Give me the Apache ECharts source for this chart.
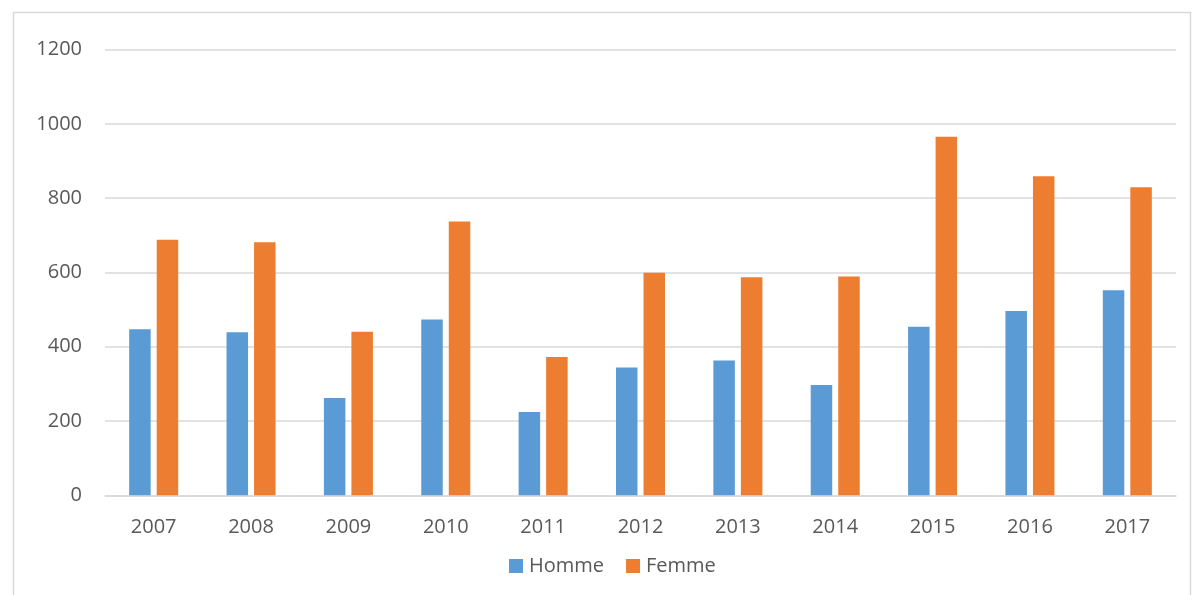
<!DOCTYPE html>
<html>
<head>
<meta charset="utf-8">
<script src="https://cdn.jsdelivr.net/npm/echarts@6/dist/echarts.min.js"></script>
<style>html,body{margin:0;padding:0;background:#fff}#c{width:1200px;height:595px}</style>
</head>
<body>
<div id="c"></div>
<script>
const categories = ['2007','2008','2009','2010','2011','2012','2013','2014','2015','2016','2017'];
const homme = [447, 439, 262, 473, 224, 344, 363, 297, 454, 496, 552];
const femme = [688, 681, 440, 737, 372, 599, 587, 589, 965, 859, 829];
const seriesNames = ['Homme', 'Femme'];

const chart = echarts.init(document.getElementById('c'));
const font = '"Open Sans", sans-serif';
chart.setOption({
  animation: false,
  textStyle: { fontFamily: font },
  graphic: [{
    type: 'rect', left: 11, top: 10,
    shape: { width: 1177, height: 600 },
    style: { fill: 'none', stroke: '#d9d9d9', lineWidth: 1.5 },
    silent: true
  }],
  grid: { left: 105, right: 24, top: 49.5, bottom: 99.7, containLabel: false },
  legend: {
    data: seriesNames, top: 556, left: 509, itemWidth: 14, itemHeight: 14, itemGap: 22,
    icon: 'rect', padding: 0,
    textStyle: { color: '#595959', fontSize: 20, fontFamily: font, padding: [0, 0, 0, 1] }
  },
  xAxis: {
    type: 'category', data: categories,
    axisLine: { lineStyle: { color: '#d9d9d9', width: 1.5 } },
    axisTick: { show: false },
    axisLabel: { color: '#595959', fontSize: 20, margin: 22, fontFamily: font }
  },
  yAxis: {
    type: 'value', min: 0, max: 1200, interval: 200,
    axisLine: { show: false }, axisTick: { show: false },
    splitLine: { lineStyle: { color: '#d9d9d9', width: 1.5 } },
    axisLabel: { color: '#595959', fontSize: 20, margin: 23, fontFamily: font, formatter: v => String(v) }
  },
  series: [
    { name: seriesNames[0], type: 'bar', data: homme, barWidth: 21.5, barGap: '28%', itemStyle: { color: '#5B9BD5' } },
    { name: seriesNames[1], type: 'bar', data: femme, barWidth: 21.5, itemStyle: { color: '#ED7D31' } }
  ]
});
</script>
</body>
</html>
